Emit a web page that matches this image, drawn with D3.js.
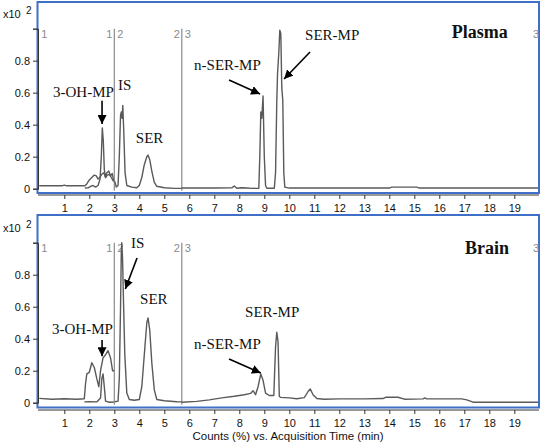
<!DOCTYPE html>
<html><head><meta charset="utf-8">
<script src="https://cdn.jsdelivr.net/npm/d3@7"></script>
<style>body{margin:0;background:#fff}svg{display:block}</style>
</head><body><svg id="c" width="543" height="444"></svg>
<script>
// ---- data ----
const xTicks = [1,2,3,4,5,6,7,8,9,10,11,12,13,14,15,16,17,18,19];
const yTicks = [0,0.2,0.4,0.6,0.8];
const segmentBounds = [3.0, 5.7];

// Plasma traces [time(min), counts x10^2]
const plasmaSeg1a = [[0,0.018],[0.9,0.018],[1.0,0.022],[1.1,0.018],[1.82,0.018],[1.9,0.03],[2.0,0.055],[2.1,0.07],[2.2,0.085],[2.28,0.08],[2.35,0.06],[2.42,0.07],[2.5,0.09],[2.58,0.1],[2.65,0.07],[2.72,0.085],[2.8,0.09],[2.88,0.07],[2.95,0.05],[3.0,0.045]];
const plasmaSeg1b = [[1.82,0.004],[1.95,0.005],[2.05,0.015],[2.15,0.02],[2.25,0.01],[2.35,0.02],[2.43,0.06],[2.48,0.2],[2.52,0.38],[2.56,0.3],[2.6,0.12],[2.65,0.07],[2.7,0.1],[2.78,0.11],[2.85,0.08],[2.92,0.095],[2.97,0.05]];
const plasmaSeg2 = [[3.02,0.045],[3.08,0.01],[3.15,0.02],[3.2,0.2],[3.25,0.46],[3.28,0.48],[3.31,0.44],[3.34,0.52],[3.38,0.35],[3.43,0.1],[3.5,0.02],[3.7,0.01],[3.9,0.006],[4.0,0.02],[4.1,0.07],[4.2,0.15],[4.3,0.2],[4.35,0.21],[4.42,0.18],[4.5,0.11],[4.6,0.04],[4.7,0.015],[5.0,0.006],[5.4,0.002],[5.7,0.002]];
const plasmaSeg3 = [[5.7,0.004],[7.0,0.004],[7.7,0.005],[7.8,0.017],[7.9,0.003],[8.1,0.006],[8.3,0.004],[8.5,0.002],[8.78,0.003],[8.82,0.2],[8.86,0.48],[8.9,0.44],[8.95,0.58],[9.0,0.2],[9.05,0.02],[9.1,0.003],[9.4,0.003],[9.45,0.1],[9.5,0.55],[9.53,0.72],[9.58,0.85],[9.62,0.99],[9.66,0.97],[9.7,0.63],[9.74,0.55],[9.78,0.1],[9.82,0.01],[10.0,0.004],[14.0,0.004],[14.1,0.01],[15.1,0.01],[15.2,0.004],[19.95,0.004]];

// Brain traces
const brainSeg1a = [[0,0.027],[0.5,0.022],[1.0,0.025],[1.5,0.022],[1.8,0.025],[1.85,0.12],[1.9,0.18],[2.0,0.19],[2.1,0.25],[2.2,0.22],[2.3,0.15],[2.38,0.1],[2.45,0.2],[2.55,0.28],[2.65,0.3],[2.75,0.325],[2.85,0.28],[2.93,0.2],[3.0,0.2]];
const brainSeg1b = [[1.8,0.005],[2.0,0.006],[2.3,0.005],[2.45,0.03],[2.5,0.15],[2.55,0.18],[2.6,0.1],[2.65,0.01],[2.8,0.003],[2.98,0.004]];
const brainSeg2 = [[3.02,0.006],[3.15,0.01],[3.2,0.15],[3.25,0.6],[3.28,0.95],[3.3,1.0],[3.33,0.9],[3.37,0.62],[3.42,0.3],[3.5,0.06],[3.6,0.02],[3.8,0.015],[4.0,0.02],[4.1,0.1],[4.2,0.3],[4.3,0.5],[4.35,0.53],[4.42,0.45],[4.5,0.25],[4.6,0.08],[4.7,0.02],[5.0,0.012],[5.5,0.006],[5.7,0.005]];
const brainSeg3 = [[5.7,0.003],[6.3,0.008],[6.8,0.018],[7.3,0.03],[7.8,0.04],[8.2,0.05],[8.45,0.058],[8.55,0.075],[8.65,0.05],[8.75,0.1],[8.86,0.18],[8.95,0.14],[9.05,0.06],[9.2,0.045],[9.38,0.045],[9.45,0.35],[9.5,0.44],[9.55,0.38],[9.6,0.04],[9.65,0.033],[10.0,0.03],[10.3,0.025],[10.6,0.032],[10.75,0.07],[10.84,0.085],[10.95,0.05],[11.1,0.026],[11.4,0.022],[12.0,0.024],[13.0,0.024],[13.75,0.026],[13.85,0.034],[14.35,0.034],[14.6,0.022],[15.35,0.024],[15.42,0.03],[15.5,0.024],[16.9,0.024],[17.1,0.018],[17.35,0.003],[19.95,0.003]];

// annotations [text, time, value]
const plasmaLabels = [["3-OH-MP",0.55,0.573],["IS",3.15,0.617],["SER",3.86,0.288],["n-SER-MP",6.19,0.742],["SER-MP",10.63,0.929]];
const plasmaArrows = [[2.51,0.55,2.51,0.404],[7.59,0.679,8.83,0.592],[10.83,0.854,9.79,0.686]];
const brainLabels = [["3-OH-MP",0.51,0.429],["IS",3.67,0.967],["SER",4.03,0.617],["n-SER-MP",6.19,0.336],["SER-MP",8.23,0.536]];
const brainArrows = [[2.51,0.392,2.51,0.29],[3.91,0.904,3.44,0.711],[7.59,0.273,8.86,0.186]];

const svg = d3.select("#c");
const defs = svg.append("defs");
defs.append("marker").attr("id","ah").attr("viewBox","0 0 10 10").attr("refX",10).attr("refY",5)
  .attr("markerWidth",9).attr("markerHeight",9).attr("orient","auto").attr("markerUnits","userSpaceOnUse")
  .append("path").attr("d","M0,0L10,5L0,10z").attr("fill","#000");

const x = d3.scaleLinear().domain([0,20]).range([39.3,539.3]);

function panel(cfg){
  const y = d3.scaleLinear().domain([0,1]).range([cfg.y0, cfg.y0-160]);
  const g = svg.append("g");
  g.append("rect").attr("x",37.5).attr("y",cfg.fTop).attr("width",501.5).attr("height",cfg.fBot-cfg.fTop)
    .attr("fill","none").attr("stroke","#3f6fc6").attr("stroke-width",2);
  const ya = d3.axisLeft(y).tickValues(yTicks.concat([1])).tickSize(5).tickPadding(3)
    .tickFormat(d => d===1 ? "" : (d===0 ? "0" : d3.format(".1f")(d)));
  const yg = g.append("g").attr("transform","translate(38,0)").call(ya);
  yg.selectAll("text").attr("font-family","Liberation Sans, Arial").attr("font-size",11).attr("fill","#111");
  yg.selectAll("line,path").attr("stroke","#333");
  g.append("text").attr("x",3).attr("y",cfg.y0-171).attr("font-family","Liberation Sans, Arial").attr("font-size",11).attr("fill","#111").text("x10");
  g.append("text").attr("x",26).attr("y",cfg.y0-175).attr("font-family","Liberation Sans, Arial").attr("font-size",10).attr("fill","#111").text("2");
  const xa = d3.axisBottom(x).tickValues(xTicks).tickSize(4).tickPadding(5).tickFormat(d3.format("d"));
  const xg = g.append("g").attr("transform",`translate(0,${cfg.xAxisY})`).call(xa);
  xg.select(".domain").attr("d",`M38,0H539`);
  xg.selectAll("text").attr("font-family","Liberation Sans, Arial").attr("font-size",11).attr("fill","#111");
  xg.selectAll("line,path").attr("stroke","#333");
  segmentBounds.forEach(b=>{
    g.append("line").attr("x1",x(b)).attr("x2",x(b)).attr("y1",y(1)).attr("y2",y(0)+2).attr("stroke","#8a8a8a").attr("stroke-width",1.2);
  });
  const segTxt = [["1",x(0)+2,"start"],["1",x(3.0)-2,"end"],["2",x(3.0)+3,"start"],["2",x(5.7)-2,"end"],["3",x(5.7)+3,"start"],["3",533,"start"]];
  segTxt.forEach(s=>g.append("text").attr("x",s[1]).attr("y",y(1)+9).attr("text-anchor",s[2])
    .attr("font-family","Liberation Sans, Arial").attr("font-size",11).attr("fill","#8a8a8a").text(s[0]));
  const line = d3.line().x(d=>x(d[0])).y(d=>y(d[1]));
  cfg.traces.forEach(t=>{
    g.append("path").attr("d",line(t)).attr("fill","none").attr("stroke","#5a5a5a").attr("stroke-width",1.4).attr("stroke-linejoin","round");
  });
  cfg.labels.forEach(l=>g.append("text").attr("x",x(l[1])).attr("y",y(l[2]))
    .attr("font-family","Liberation Serif, Times New Roman, serif").attr("font-size",15).attr("fill","#111").text(l[0]));
  cfg.arrows.forEach(a=>g.append("line").attr("x1",x(a[0])).attr("y1",y(a[1])).attr("x2",x(a[2])).attr("y2",y(a[3]))
    .attr("stroke","#000").attr("stroke-width",1.6).attr("marker-end","url(#ah)"));
  g.append("text").attr("x",x(cfg.title[1])).attr("y",y(cfg.title[2])).attr("font-family","Liberation Serif, Times New Roman, serif")
    .attr("font-weight","bold").attr("font-size",18).attr("fill","#111").text(cfg.title[0]);
}

panel({y0:188.7, fTop:2, fBot:193, xAxisY:195, traces:[plasmaSeg1a,plasmaSeg1b,plasmaSeg2,plasmaSeg3],
  labels:plasmaLabels, arrows:plasmaArrows, title:["Plasma",16.5,0.94]});
panel({y0:402.7, fTop:215, fBot:407.5, xAxisY:410, traces:[brainSeg1a,brainSeg1b,brainSeg2,brainSeg3],
  labels:brainLabels, arrows:brainArrows, title:["Brain",17.03,0.929]});

svg.append("text").attr("x",288).attr("y",440).attr("text-anchor","middle").attr("font-family","Liberation Sans, Arial")
  .attr("font-size",11.5).attr("fill","#111").text("Counts (%) vs. Acquisition Time (min)");
</script></body></html>
